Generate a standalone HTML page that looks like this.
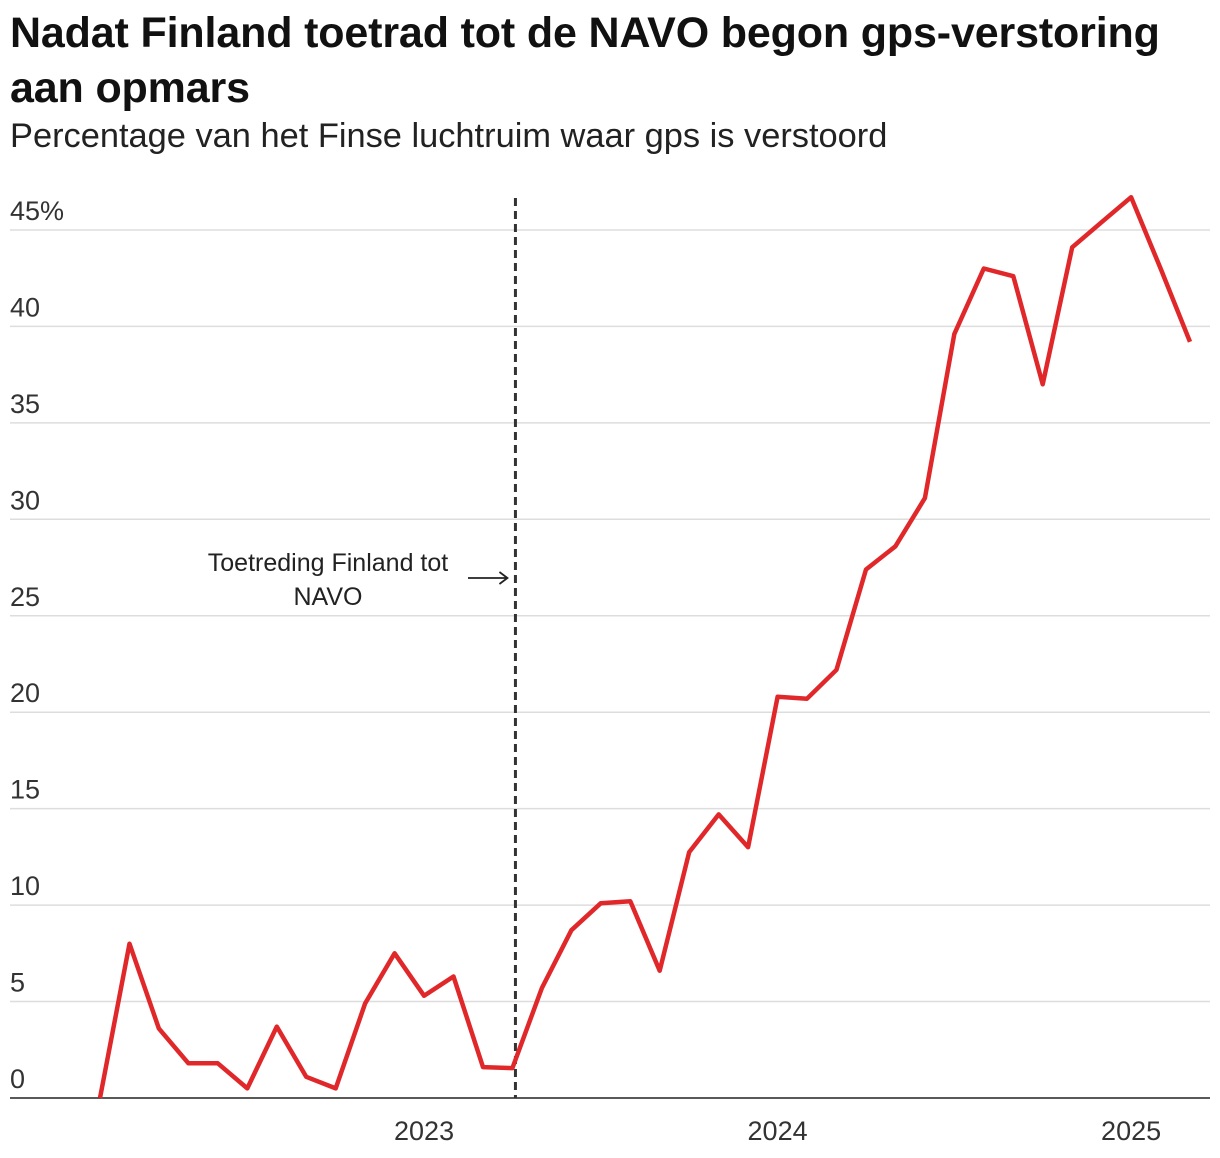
<!DOCTYPE html>
<html><head><meta charset="utf-8"><style>
body{margin:0;background:#fff;width:1220px;height:1158px;overflow:hidden;font-family:"Liberation Sans",sans-serif;}
h1{position:absolute;left:10px;top:6px;margin:0;font-size:43px;line-height:55px;font-weight:bold;color:#111;letter-spacing:-0.15px;}
.sub{position:absolute;left:10px;top:117px;font-size:34.4px;color:#222;}
svg{position:absolute;left:0;top:0;}
</style></head><body>
<h1>Nadat Finland toetrad tot de NAVO begon gps-verstoring<br>aan opmars</h1>
<div class="sub">Percentage van het Finse luchtruim waar gps is verstoord</div>
<svg id="chart" width="1220" height="1158"></svg>
<script>
const months=["2022-02","2022-03","2022-04","2022-05","2022-06","2022-07","2022-08","2022-09","2022-10","2022-11","2022-12","2023-01","2023-02","2023-03","2023-04","2023-05","2023-06","2023-07","2023-08","2023-09","2023-10","2023-11","2023-12","2024-01","2024-02","2024-03","2024-04","2024-05","2024-06","2024-07","2024-08","2024-09","2024-10","2024-11","2024-12","2025-01","2025-02","2025-03"];
const values=[0,8.0,3.6,1.8,1.8,0.5,3.7,1.1,0.5,4.9,7.5,5.3,6.3,1.6,1.55,5.7,8.7,10.1,10.2,6.6,12.75,14.7,13.0,20.8,20.7,22.2,27.4,28.6,31.1,39.6,43.0,42.6,37.0,44.1,45.4,46.7,43.0,39.2];
const yTicks=[0,5,10,15,20,25,30,35,40,45];
const yearLabels=["2023","2024","2025"];
const eventMonth="2023-04";
const NS="http://www.w3.org/2000/svg";
const svg=document.getElementById('chart');
function mi(m){const [y,mo]=m.split('-').map(Number);return (y-2022)*12+(mo-1);}
const x=m=>100+(mi(m)-1)*29.46;
const y=v=>1098-v*19.29;
function el(t,a,p){const e=document.createElementNS(NS,t);for(const k in a)e.setAttribute(k,a[k]);(p||svg).appendChild(e);return e;}
yTicks.forEach(t=>{
  if(t>0){const g=el('line',{x1:10,x2:1210,y1:y(t),y2:y(t),stroke:'#ddd','stroke-width':1.5});
  
  }
  const tx=el('text',{x:10,y:y(t)-10,'font-size':27,fill:'#333','font-family':'Liberation Sans, sans-serif'});
  tx.textContent=t===45?'45%':String(t);
  
  
});
const base=el('line',{x1:10,x2:1210,y1:1098,y2:1098,stroke:'#222','stroke-width':1.5});


yearLabels.forEach(yr=>{
  const t=el('text',{x:x(yr+'-01'),y:1140,'font-size':27,fill:'#333','text-anchor':'middle','font-family':'Liberation Sans, sans-serif'});
  t.textContent=yr;
  
  
});
const ex=x(eventMonth)+3;
const vl=el('line',{x1:ex,x2:ex,y1:198,y2:1098,stroke:'#333','stroke-width':3,'stroke-dasharray':'8,5'});


[["Toetreding Finland tot",571],["NAVO",605]].forEach((l,i)=>{
  const t=el('text',{x:328,y:l[1],'font-size':25,fill:'#222','text-anchor':'middle','font-family':'Liberation Sans, sans-serif'});
  t.textContent=l[0];
  
  
});
const ar=el('path',{d:`M468,578 H${ex-8} M${ex-16},572 L${ex-8},578 L${ex-16},584`,stroke:'#222','stroke-width':1.8,fill:'none'});


const d=values.map((v,i)=>(i?'L':'M')+x(months[i]).toFixed(1)+','+y(v).toFixed(1)).join(' ');
const line=el('path',{d:d,stroke:'#e0282a','stroke-width':4.5,fill:'none','stroke-linejoin':'round'});


</script>
</body></html>
